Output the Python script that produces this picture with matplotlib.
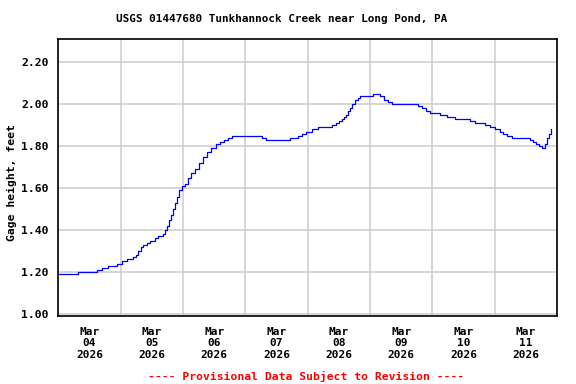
import matplotlib
matplotlib.use("Agg")
import matplotlib.pyplot as plt
import numpy as np

# Hours after Mar 04 2026 00:00 and gage height (feet)
hours = [0.0, 7.5, 14.9, 16.8, 19.1, 22.6, 24.5, 26.4, 28.8, 29.9, 30.7, 31.9, 32.6,
         34.2, 35.3, 37.3, 38.4, 40.3, 41.1, 41.9, 42.6, 43.4, 44.2, 45.0, 45.7,
         46.5, 47.6, 48.8, 50.0, 51.1, 52.7, 54.2, 55.7, 57.3, 58.8, 60.8, 62.3,
         63.8, 65.4, 66.9, 77.7, 78.5, 80.0, 87.3, 89.3, 92.3, 93.9, 95.4, 97.7,
         100.0, 105.4, 106.9, 108.1, 109.2, 110.0, 110.8, 111.6, 112.3, 113.1,
         114.3, 115.4, 116.2, 119.3, 121.2, 123.9, 125.5, 127.0, 128.6, 135.5,
         138.6, 140.1, 141.7, 143.2, 147.1, 149.8, 152.8, 158.6, 160.5, 164.4,
         166.3, 168.2, 170.2, 171.3, 172.9, 174.8, 179.8, 181.7, 182.9, 184.0,
         185.2, 186.4, 187.5, 188.3, 189.1, 189.8]
gage = [1.19, 1.20, 1.21, 1.22, 1.23, 1.24, 1.25, 1.26, 1.27, 1.28, 1.30, 1.32, 1.33,
        1.34, 1.35, 1.36, 1.37, 1.38, 1.40, 1.42, 1.45, 1.47, 1.50, 1.53, 1.56,
        1.59, 1.61, 1.62, 1.65, 1.67, 1.69, 1.72, 1.75, 1.77, 1.79, 1.81, 1.82,
        1.83, 1.84, 1.85, 1.85, 1.84, 1.83, 1.83, 1.84, 1.85, 1.86, 1.87, 1.88,
        1.89, 1.90, 1.91, 1.92, 1.93, 1.94, 1.95, 1.97, 1.98, 2.00,
        2.02, 2.03, 2.04, 2.04, 2.05, 2.04, 2.02, 2.01, 2.00, 2.00,
        1.99, 1.98, 1.97, 1.96, 1.95, 1.94, 1.93, 1.92, 1.91, 1.90,
        1.89, 1.88, 1.87, 1.86, 1.85, 1.84, 1.84, 1.83, 1.82, 1.81,
        1.80, 1.79, 1.81, 1.84, 1.86, 1.88]

day_labels = ["Mar\n04\n2026", "Mar\n05\n2026", "Mar\n06\n2026", "Mar\n07\n2026",
              "Mar\n08\n2026", "Mar\n09\n2026", "Mar\n10\n2026", "Mar\n11\n2026"]
y_ticks = [1.00, 1.20, 1.40, 1.60, 1.80, 2.00, 2.20]

title = "USGS 01447680 Tunkhannock Creek near Long Pond, PA"
ylabel = "Gage height, feet"
footer = "---- Provisional Data Subject to Revision ----"

font = "DejaVu Sans Mono"

fig = plt.figure(figsize=(5.76, 3.84), dpi=100)
ax = fig.add_axes([58.3 / 576, 1 - 316 / 384, (557 - 58.3) / 576, (316 - 39.3) / 384])

days = np.array(hours) / 24.0
ax.plot(days, gage, color="#0000ff", lw=0.9, drawstyle="steps-post")

ax.set_xlim(0, 8)
ax.set_ylim(0.99, 2.31)

ax.set_xticks(np.arange(0, 9), minor=False)
ax.set_xticklabels([""] * 9)
ax.set_xticks(np.arange(8) + 0.5, minor=True)
ax.set_xticklabels(day_labels, minor=True, fontfamily=font, fontweight="bold",
                   fontsize=8, linespacing=1.15)
ax.tick_params(axis="x", which="both", length=0, pad=8)

ax.set_yticks(y_ticks)
ax.set_yticklabels([f"{v:.2f}" for v in y_ticks], fontfamily=font,
                   fontweight="bold", fontsize=8.2)
ax.tick_params(axis="y", length=0, pad=7)

ax.grid(True, which="major", color="#cccccc", lw=1.1)
ax.set_axisbelow(True)
for s in ax.spines.values():
    s.set_linewidth(1.2)
    s.set_color("black")

fig.text(282 / 576, 1 - 19 / 384, title, ha="center", va="center",
         fontfamily=font, fontweight="bold", fontsize=7.95)
fig.text(11.5 / 576, 1 - 183 / 384, ylabel, ha="center", va="center",
         rotation=90, fontfamily=font, fontweight="bold", fontsize=8.2)
fig.text(306 / 576, 1 - 376 / 384, footer, ha="center", va="center",
         color="red", fontfamily=font, fontweight="bold", fontsize=8.2)

fig.savefig("out.png", dpi=100)
